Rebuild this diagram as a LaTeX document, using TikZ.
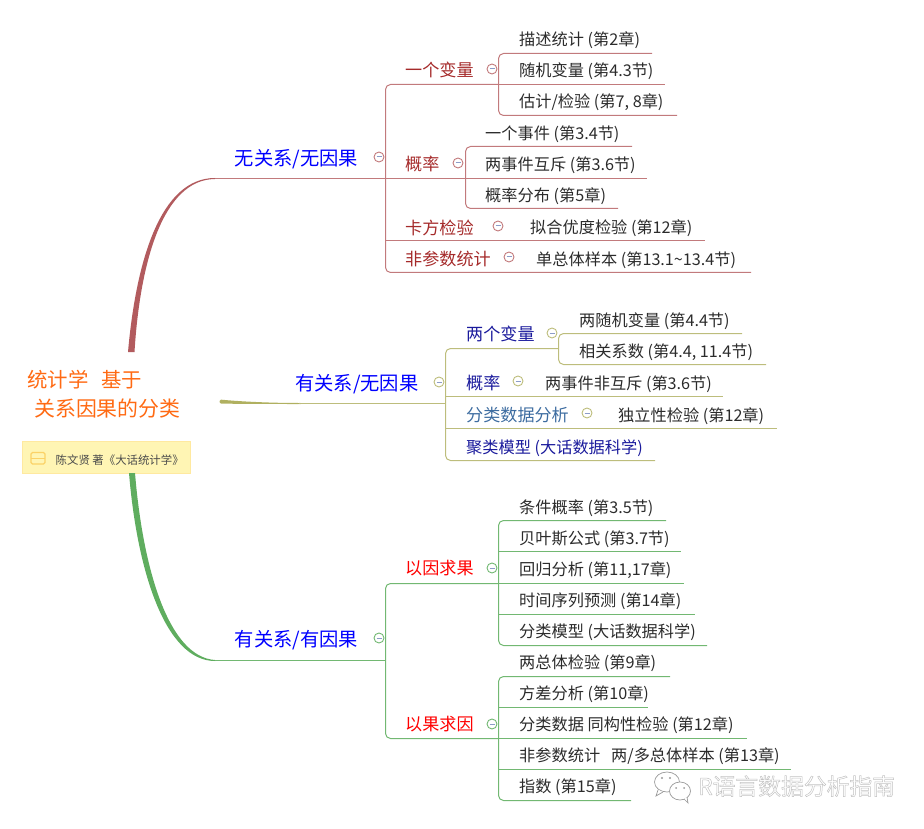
\documentclass[tikz,border=0pt]{standalone}
\usepackage{fontspec}
\setmainfont{Noto Sans CJK SC}
\definecolor{redA}{HTML}{B25B5E}
\definecolor{redL}{HTML}{C27A7C}
\definecolor{redT}{HTML}{A52A2A}
\definecolor{olvA}{HTML}{B0B060}
\definecolor{olvL}{HTML}{BDBD7C}
\definecolor{grnA}{HTML}{5FAD5F}
\definecolor{grnL}{HTML}{72B872}
\definecolor{navyT}{HTML}{1A1A9C}
\definecolor{steelT}{HTML}{3D6CA0}
\definecolor{orgT}{HTML}{FF6A13}
\definecolor{leafT}{HTML}{2B2B2B}
\definecolor{notef}{HTML}{FFF5B4}
\definecolor{noted}{HTML}{FFE9A0}
\definecolor{noteic}{HTML}{FBD267}
\definecolor{minusc}{HTML}{8C9CC8}
\definecolor{wm}{HTML}{9A9A9A}
\tikzset{
 txt/.style={anchor=west,inner sep=0pt,text height=12.6pt,text depth=0pt,font=\fontsize{16.2}{18}\selectfont,text=leafT,align=left},
 lvA/.style={txt,text height=14.6pt,font=\fontsize{19.3}{21}\selectfont,text=blue},
 lvB/.style={txt,font=\fontsize{17.1}{20}\selectfont},
 rootT/.style={txt,font=\fontsize{20.4}{22}\selectfont,text=orgT},
 tog/.style={circle,draw=#1,line width=.9pt,fill=white,minimum size=10pt,inner sep=0pt,
  path picture={\draw[minusc,line width=1pt] ([xshift=-2.5pt]path picture bounding box.center) -- ([xshift=2.5pt]path picture bounding box.center);}},
 rl/.style={redL,line width=1pt,rounded corners=5pt},
 ol/.style={olvL,line width=1pt,rounded corners=5pt},
 gl/.style={grnL,line width=1pt,rounded corners=5pt},
 wmline/.style={wm,line width=.7pt,fill=white},
}
\newcommand{\leaf}[6]{% name, text x, text y, line y, end x, text
 \node[txt] (#1) at (#2,#3) {#6};
 \coordinate (#1-e) at (#5,#4);}
\begin{document}
\begin{tikzpicture}[x=1pt,y=-1pt]
\useasboundingbox (0,0) rectangle (924,829);
% root
\node[rootT] (root1) at (27,381) {统计学\hspace{13pt}基于};
\node[rootT,font=\fontsize{20.9}{22}\selectfont] (root2) at (34,410) {关系因果的分类};
\coordinate (rootR) at (131,352);
\coordinate (rootO) at (219,401);
\coordinate (rootG) at (131,473);
% note
\node[draw=noted,fill=notef,line width=1pt,minimum width=168pt,minimum height=32pt,inner sep=0pt,anchor=north west] (note) at (21.5,441) {};
\draw[noteic,line width=1.2pt,rounded corners=1.5pt] (31,452.5) rectangle (45,464);
\draw[noteic,line width=1.2pt] (31,458.2) -- (45,458.2);
\node[txt,font=\fontsize{11.4}{13}\selectfont,text=leafT!85,text height=10pt] (notet) at (55.5,459.5) {陈文贤 著《大话统计学》};

% ===== branch 1
\node[lvA] (b1) at (234.5,158.5) {无关系/无因果};
\coordinate (b1j) at (385.5,178.5);
\fill[redA] (128,352) .. controls (136,262) and (160,178) .. (215,178) -- (215,179) .. controls (163,179.5) and (140,262) .. (134.5,352) -- cycle;
\draw[redL,line width=1pt] (215,178.5) -- (b1j);
\node[lvB,text=redT] (a1) at (405,70.5) {一个变量};
\node[lvB,text=redT] (a2) at (405,164.5) {概率};
\node[lvB,text=redT] (a3) at (405,228) {卡方检验};
\node[lvB,text=redT] (a4) at (405,259.5) {非参数统计};
\leaf{a11}{519}{39.5}{53.5}{652}{描述统计 (第2章)}
\leaf{a12}{519}{70.5}{84.5}{665}{随机变量 (第4.3节)}
\leaf{a13}{519}{101.5}{115.5}{677}{估计/检验 (第7, 8章)}
\leaf{a21}{485}{133.5}{146.5}{632}{一个事件 (第3.4节)}
\leaf{a22}{485}{164.5}{178.5}{647}{两事件互斥 (第3.6节)}
\leaf{a23}{485}{195.5}{208.5}{618}{概率分布 (第5章)}
\leaf{a31}{530}{227.5}{240.5}{705}{拟合优度检验 (第12章)}
\leaf{a41}{536}{259.5}{272.5}{751}{单总体样本 (第13.1\textasciitilde13.4节)}
\coordinate (a1j) at (498.5,84.5);
\coordinate (a2j) at (465.5,178.5);
\draw[rl] (a1j) -- (b1j |- a1j) -- (b1j |- a41-e) -- (a41-e);
\draw[rl] (b1j |- a31-e) -- (a31-e);
\draw[rl] (b1j) -- (a2j);
\draw[rl] (a11-e) -- (a1j |- a11-e) -- (a1j |- a13-e) -- (a13-e);
\draw[rl] (a1j) -- (a12-e);
\draw[rl] (a21-e) -- (a2j |- a21-e) -- (a2j |- a23-e) -- (a23-e);
\draw[rl] (a2j) -- (a22-e);
\node[tog=redL] (t1) at (379,157) {};
\node[tog=redL] (t2) at (492,69) {};
\node[tog=redL] (t3) at (458,163) {};
\node[tog=redL] (t4) at (498,226) {};
\node[tog=redL] (t5) at (509,257) {};

% ===== branch 2
\node[lvA] (b2) at (295,383.5) {有关系/无因果};
\coordinate (b2j) at (445.5,403.5);
\fill[olvA,rounded corners=1.5pt] (219.5,399.5) .. controls (240,401.5) and (270,403) .. (300,403) -- (300,404) .. controls (270,404) and (240,404) .. (219.5,403.5) -- cycle;
\draw[olvL,line width=1pt] (300,403.5) -- (b2j);
\node[lvB,text=navyT] (c1) at (466,334.5) {两个变量};
\node[lvB,text=navyT] (c2) at (466,383.5) {概率};
\node[lvB,text=steelT] (c3) at (466,415.5) {分类数据分析};
\leaf{c11}{579}{320}{333.5}{742}{两随机变量 (第4.4节)}
\leaf{c12}{579}{351.5}{364.5}{766}{相关系数 (第4.4, 11.4节)}
\leaf{c21}{545}{383.5}{396.5}{723}{两事件非互斥 (第3.6节)}
\leaf{c31}{618}{415.5}{428.5}{777}{独立性检验 (第12章)}
\node[lvB,text=navyT,font=\fontsize{16.2}{19}\selectfont] (c4) at (466,447) {聚类模型 (大话数据科学)};
\coordinate (c4-e) at (655,460.5);
\coordinate (c1j) at (558.5,348.5);
\draw[ol] (c1j) -- (b2j |- c1j) -- (b2j |- c4-e) -- (c4-e);
\draw[ol] (b2j |- c21-e) -- (c21-e);
\draw[ol] (b2j |- c31-e) -- (c31-e);
\draw[ol] (c11-e) -- (c1j |- c11-e) -- (c1j |- c12-e) -- (c12-e);
\node[tog=olvL] (u1) at (439,382) {};
\node[tog=olvL] (u2) at (552,333) {};
\node[tog=olvL] (u3) at (518,381) {};
\node[tog=olvL] (u4) at (587,413) {};

% ===== branch 3
\node[lvA] (b3) at (234.5,639.5) {有关系/有因果};
\coordinate (b3j) at (385.5,660.5);
\fill[grnA] (129,473) .. controls (137,570) and (165,661) .. (215,661) -- (215,660) .. controls (169,657) and (143,570) .. (135,473) -- cycle;
\draw[grnL,line width=1pt] (215,660.5) -- (b3j);
\node[lvB,text=red] (d1) at (405,568.5) {以因求果};
\node[lvB,text=red] (d2) at (405,724.5) {以果求因};
\leaf{d11}{519}{507}{520.5}{666}{条件概率 (第3.5节)}
\leaf{d12}{519}{538}{551.5}{681}{贝叶斯公式 (第3.7节)}
\leaf{d13}{519}{569}{583.5}{684}{回归分析 (第11,17章)}
\leaf{d14}{519}{600.5}{614.5}{695}{时间序列预测 (第14章)}
\leaf{d15}{519}{631.5}{645.5}{707}{分类模型 (大话数据科学)}
\leaf{d21}{519}{662.5}{676.5}{670}{两总体检验 (第9章)}
\leaf{d22}{519}{693.5}{707.5}{648}{方差分析 (第10章)}
\leaf{d23}{519}{724.5}{738.5}{747}{分类数据 同构性检验 (第12章)}
\leaf{d24}{519}{755.5}{769.5}{791}{非参数统计\hspace{11pt}两/多总体样本 (第13章)}
\leaf{d25}{519}{786.5}{800.5}{631}{指数 (第15章)}
\coordinate (dbus) at (498.5,583.5);
\draw[gl] (dbus) -- (b3j |- dbus) -- (b3j |- d23-e) -- (dbus |- d23-e);
\draw[gl] (d11-e) -- (dbus |- d11-e) -- (dbus |- d15-e) -- (d15-e);
\draw[gl] (dbus |- d12-e) -- (d12-e);
\draw[gl] (dbus) -- (d13-e);
\draw[gl] (dbus |- d14-e) -- (d14-e);
\draw[gl] (d21-e) -- (dbus |- d21-e) -- (dbus |- d25-e) -- (d25-e);
\draw[gl] (dbus |- d22-e) -- (d22-e);
\draw[gl] (dbus |- d23-e) -- (d23-e);
\draw[gl] (dbus |- d24-e) -- (d24-e);
\node[tog=grnL] (v1) at (379,638) {};
\node[tog=grnL] (v2) at (492,568) {};
\node[tog=grnL] (v3) at (492,724) {};

% ===== watermark
\draw[wmline] (667,782) ellipse [x radius=12.5pt,y radius=10pt];
\draw[wmline] (658,790) -- (656,796) -- (663,792);
\draw[wmline] (680,791) ellipse [x radius=10.5pt,y radius=9pt];
\draw[wmline] (684,799) -- (688,803) -- (687,797);
\fill[wm] (662,778) circle (1.1pt) (670,778) circle (1.1pt) (676,788) circle (1pt) (684,788) circle (1pt);
\node[txt,font=\fontsize{22.8}{26}\selectfont,text=wm!60] (wmt) at (698,788.5) {\special{pdf:code 1 Tr 0.5 w}R语言数据分析指南\special{pdf:code 0 Tr}};
\end{tikzpicture}
\end{document}
